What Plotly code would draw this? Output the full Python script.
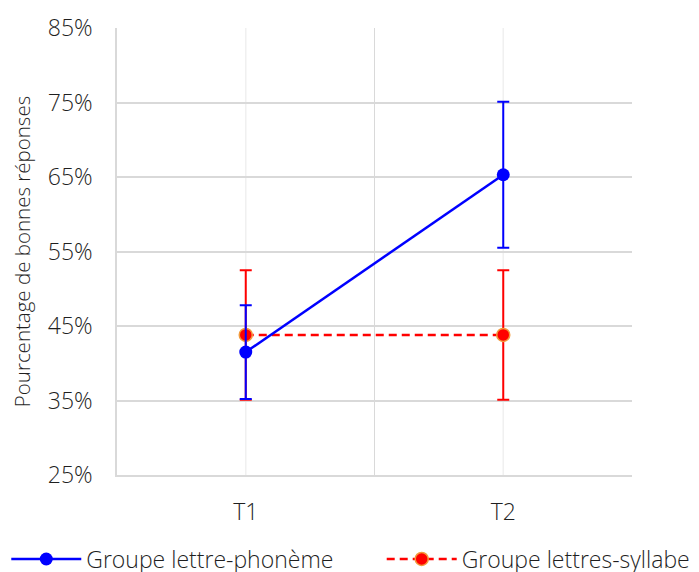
import plotly.graph_objects as go

TIMES = ["T1", "T2"]
PHONEME = [41.5, 65.3]
PHONEME_ERR = [6.3, 9.8]
SYLLABE = [43.8, 43.8]
SYLLABE_ERR = [8.7, 8.7]
Y_TICKS = [25, 35, 45, 55, 65, 75, 85]

FONT = "Open Sans"
TXT = "#1f1f1f"

fig = go.Figure()

fig.add_trace(go.Scatter(
    x=TIMES, y=SYLLABE, mode="lines+markers", name="Groupe lettres-syllabe",
    legend="legend2",
    line=dict(color="#ff0000", width=2.5, dash="8px,5px"),
    marker=dict(color="#ff0000", size=13, line=dict(color="#f39a3c", width=1.5)),
    error_y=dict(type="data", array=SYLLABE_ERR, color="#ff0000", thickness=2, width=6),
))
fig.add_trace(go.Scatter(
    x=TIMES, y=PHONEME, mode="lines+markers", name="Groupe lettre-phonème",
    legend="legend",
    line=dict(color="#0000ff", width=2.5),
    marker=dict(color="#0000ff", size=13),
    error_y=dict(type="data", array=PHONEME_ERR, color="#0000ff", thickness=2, width=6),
))

# faint lines through the categories, as in the original
for t in TIMES:
    fig.add_shape(type="line", xref="x", yref="paper", x0=t, x1=t, y0=0, y1=1,
                  line=dict(color="#f0f0f0", width=1.5), layer="below")

legend_common = dict(orientation="h", xanchor="left", y=-0.188, yanchor="middle",
                     font=dict(size=23, color=TXT, family=FONT, weight=300),
                     itemwidth=70, bgcolor="rgba(0,0,0,0)")

fig.update_layout(
    width=691, height=564,
    plot_bgcolor="white", paper_bgcolor="white",
    margin=dict(l=109, r=67, t=20, b=97, autoexpand=False),
    font=dict(family=FONT, color=TXT, weight=300),
    showlegend=True,
    legend=dict(x=-0.215, **legend_common),
    legend2=dict(x=0.514, **legend_common),
)
fig.update_xaxes(
    type="category", tickson="boundaries", range=[-0.5, 1.5],
    showgrid=True, gridcolor="#d9d9d9", gridwidth=1.2,
    showline=True, linecolor="#d9d9d9", linewidth=1.5, mirror=False,
    ticks="", tickfont=dict(size=23, family=FONT, color=TXT, weight=300),
    ticklabelstandoff=16,
)
fig.update_yaxes(
    range=[25, 85], tickvals=Y_TICKS, ticktext=[f"{v}%" for v in Y_TICKS],
    showgrid=True, gridcolor="#d9d9d9", gridwidth=2,
    zeroline=False, showline=True, linecolor="#d9d9d9", linewidth=1.5,
    ticks="", tickfont=dict(size=23, family=FONT, color=TXT, weight=300),
    ticklabelstandoff=18,
    title=dict(text="Pourcentage de bonnes réponses",
               font=dict(size=20.5, family=FONT, color=TXT, weight=300), standoff=12),
)

fig.write_html("out.html")
